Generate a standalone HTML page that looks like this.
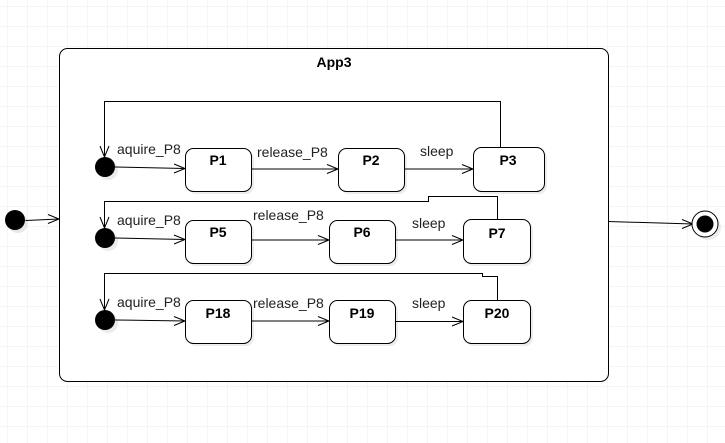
<!DOCTYPE html>
<html><head><meta charset="utf-8"><style>
html,body{margin:0;padding:0;background:#fff;}
svg{display:block;}
text{font-family:"Liberation Sans",Arial,sans-serif;}
</style></head><body>
<svg width="725" height="443" viewBox="0 0 725 443" xmlns="http://www.w3.org/2000/svg">
<defs>
<pattern id="g" x="7" y="6" width="20" height="20" patternUnits="userSpaceOnUse">
<path d="M0 0H20M0 0V20" stroke="#ebebeb" stroke-width="1" fill="none"/>
</pattern>
</defs>
<rect width="725" height="443" fill="url(#g)"/>
<!-- container -->
<rect x="59.5" y="48.5" width="549" height="333" rx="8" fill="#fff" stroke="#000" stroke-width="1"/>
<text x="334" y="67" font-size="14" font-weight="bold" text-anchor="middle">App3</text>

<g fill="#000" stroke="none">
<circle cx="18" cy="223" r="10" fill="#e8e8e8"/>
<circle cx="15" cy="220" r="10"/>
</g>
<path d="M25.5 220.5L59 219" stroke="#000" fill="none"/>
<path d="M48 214.5L59 219L48 223.5" stroke="#000" fill="none"/>

<path d="M608 221.5L693 224" stroke="#000" fill="none"/>
<path d="M682 219.5L693 224L682 228.5" stroke="#000" fill="none"/>
<circle cx="708" cy="227" r="13" fill="#ececec"/>
<circle cx="705" cy="224" r="13" fill="#fff" stroke="#000"/>
<circle cx="705" cy="224" r="8.5" fill="#000"/>

<g font-size="14" font-weight="bold" text-anchor="middle">
<!-- shadows -->
<g fill="#ececec">
<rect x="188" y="151" width="66" height="43" rx="8"/>
<rect x="341" y="151" width="66" height="43" rx="8"/>
<rect x="476" y="150" width="71" height="44" rx="8"/>
<rect x="188" y="223" width="66" height="43" rx="8"/>
<rect x="332" y="223" width="66" height="43" rx="8"/>
<rect x="466" y="222" width="67" height="44" rx="8"/>
<rect x="188" y="303" width="66" height="43" rx="8"/>
<rect x="332" y="303" width="66" height="43" rx="8"/>
<rect x="466" y="303" width="67" height="43" rx="8"/>
<circle cx="108" cy="170" r="10"/>
<circle cx="108" cy="241" r="10"/>
<circle cx="108" cy="323" r="10"/>
</g>
<g fill="#fff" stroke="#000">
<rect x="185.5" y="148.5" width="66" height="43" rx="8"/>
<rect x="338.5" y="148.5" width="66" height="43" rx="8"/>
<rect x="473.5" y="147.5" width="71" height="44" rx="8"/>
<rect x="185.5" y="220.5" width="66" height="43" rx="8"/>
<rect x="329.5" y="220.5" width="66" height="43" rx="8"/>
<rect x="463.5" y="219.5" width="67" height="44" rx="8"/>
<rect x="185.5" y="300.5" width="66" height="43" rx="8"/>
<rect x="329.5" y="300.5" width="66" height="43" rx="8"/>
<rect x="463.5" y="300.5" width="67" height="43" rx="8"/>
</g>
<g fill="#000">
<circle cx="105" cy="167" r="10"/>
<circle cx="105" cy="238" r="10"/>
<circle cx="105" cy="320" r="10"/>
<text x="218" y="165">P1</text>
<text x="371" y="165">P2</text>
<text x="508" y="165">P3</text>
<text x="218" y="237">P5</text>
<text x="362" y="237">P6</text>
<text x="497" y="238">P7</text>
<text x="218" y="318">P18</text>
<text x="362" y="318">P19</text>
<text x="497" y="318">P20</text>
</g>
</g>

<g stroke="#000" fill="none">
<!-- row 1 -->
<path d="M115 167L185 168.5"/><path d="M174 164L185 168.5L174 173"/>
<path d="M251 169L338 169"/><path d="M327 164.5L338 169L327 173.5"/>
<path d="M404 169L473 169"/><path d="M462 164.5L473 169L462 173.5"/>
<path d="M500.5 147V101.5H104.5V157"/><path d="M100 146L104.5 157L109 146"/>
<!-- row 2 -->
<path d="M115 238L185 239.5"/><path d="M174 235L185 239.5L174 244"/>
<path d="M251 240L329 240"/><path d="M318 235.5L329 240L318 244.5"/>
<path d="M395 240L463 240"/><path d="M452 235.5L463 240L452 244.5"/>
<path d="M497.5 219V196.5H428.5V201.5H104.5V228"/><path d="M100 217L104.5 228L109 217"/>
<!-- row 3 -->
<path d="M115 320L185 321"/><path d="M174 316.5L185 321L174 325.5"/>
<path d="M251 321L329 321"/><path d="M318 316.5L329 321L318 325.5"/>
<path d="M395 321.5L463 321.5"/><path d="M452 317L463 321.5L452 326"/>
<path d="M497.5 300V276.5H482.5V273.5H104.5V310"/><path d="M100 299L104.5 310L109 299"/>
</g>

<g font-size="14" fill="#222">
<text x="117" y="154">aquire_P8</text>
<text x="257" y="157">release_P8</text>
<text x="420" y="156">sleep</text>
<text x="117" y="225">aquire_P8</text>
<text x="253" y="220">release_P8</text>
<text x="412" y="228">sleep</text>
<text x="117" y="307">aquire_P8</text>
<text x="253" y="308">release_P8</text>
<text x="412" y="308">sleep</text>
</g>
</svg>
</body></html>
